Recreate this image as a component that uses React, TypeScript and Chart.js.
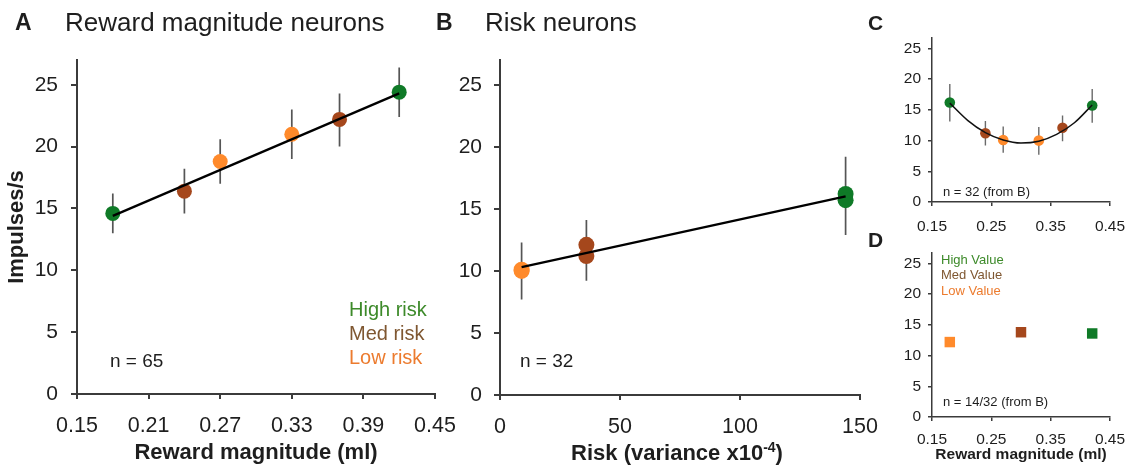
import React, { useEffect, useRef } from "react";
import { Chart, registerables } from "chart.js";

Chart.register(...registerables);

const FONT = '"Liberation Sans", Arial, Helvetica, sans-serif';
Chart.defaults.font.family = FONT;

// ---------- Panel A: reward magnitude neurons (n = 65) ----------
const rewardA = [0.18, 0.24, 0.27, 0.33, 0.37, 0.42];
const riskLevelA = ["high", "med", "low", "low", "med", "high"];
const impulsesA = [14.6, 16.4, 18.8, 21.0, 22.2, 24.4];
const errLowA = [13.0, 14.6, 17.0, 19.0, 20.0, 22.4];
const errHighA = [16.2, 18.2, 20.6, 23.0, 24.3, 26.4];
const fitXA = [0.18, 0.42];
const fitYA = [14.4, 24.3];

// ---------- Panels B & C: risk neurons (n = 32) ----------
const rewardB = [0.18, 0.24, 0.27, 0.33, 0.37, 0.42];
const riskVarB = [144, 36, 9, 9, 36, 144];
const riskLevelB = ["high", "med", "low", "low", "med", "high"];
const impulsesB = [16.2, 11.2, 10.1, 10.0, 12.1, 15.7];
const errLowB = [13.1, 9.2, 8.0, 7.7, 9.9, 12.9];
const errHighB = [19.2, 13.2, 12.3, 12.2, 14.1, 18.4];
const fitXB = [9, 144];
const fitYB = [10.3, 16.0];
const curveXC = [0.18, 0.21, 0.24, 0.27, 0.3, 0.33, 0.36, 0.39, 0.42];
const curveYC = [16.1, 13.3, 11.3, 10.1, 9.6, 9.9, 11.0, 12.9, 15.8];

// ---------- Panel D (n = 14/32) ----------
const rewardD = [0.18, 0.3, 0.42];
const valueLevelD = ["low", "med", "high"];
const impulsesD = [12.2, 13.8, 13.6];

// ---------- tick / label text ----------
const ticksRewardA = [0.15, 0.21, 0.27, 0.33, 0.39, 0.45];
const ticksRisk = [0, 50, 100, 150];
const ticksRewardCD = [0.15, 0.25, 0.35, 0.45];
const ticksImpulses = [0, 5, 10, 15, 20, 25];
const legendRisk = ["High risk", "Med risk", "Low risk"];
const legendValue = ["High Value", "Med Value", "Low Value"];

const POINT_COLORS: Record<string, string> = {
  high: "#0f7a27",
  med: "#a5471c",
  low: "#ff8a2b",
};
const LABEL_COLORS: Record<string, string> = {
  high: "#3d8a2a",
  med: "#7f5731",
  low: "#ec7b2e",
};
const AXIS = "#3b3b3b";
const TEXT = "#1e1e1e";

const pts = (xs: number[], ys: number[]) => xs.map((x, i) => ({ x, y: ys[i] }));
const errorSegments = (xs: number[], lo: number[], hi: number[]) => {
  const out: { x: number; y: number | null }[] = [];
  xs.forEach((x, i) => {
    out.push({ x, y: lo[i] }, { x, y: hi[i] }, { x, y: null });
  });
  return out;
};

type ScaleOpt = {
  min: number;
  max: number;
  step: number;
  tickValues: number[];
  decimals: number;
  fontSize: number;
  tickLen: number;
  pad: number;
  size: number;
  borderWidth: number;
  title?: string;
  titleSize?: number;
  titlePad?: any;
};

function scale(axis: "x" | "y", o: ScaleOpt) {
  return {
    type: "linear",
    position: axis === "x" ? "bottom" : "left",
    min: o.min,
    max: o.max,
    offset: false,
    afterBuildTicks: (s: any) => {
      s.ticks = o.tickValues.map((v) => ({ value: v }));
    },
    ticks: {
      stepSize: o.step,
      includeBounds: false,
      autoSkip: false,
      maxRotation: 0,
      color: TEXT,
      padding: o.pad,
      font: { size: o.fontSize },
      callback: (v: any) => Number(v).toFixed(o.decimals),
    },
    grid: {
      drawOnChartArea: false,
      drawTicks: true,
      tickLength: o.tickLen,
      color: AXIS,
      lineWidth: o.borderWidth,
      offset: false,
    },
    border: { display: true, color: AXIS, width: o.borderWidth },
    title: o.title
      ? {
          display: true,
          text: o.title,
          color: TEXT,
          font: { size: o.titleSize, weight: "bold" },
          padding: o.titlePad,
        }
      : { display: false },
    afterFit: (s: any) => {
      if (axis === "x") s.height = o.size;
      else s.width = o.size;
      s.paddingLeft = 0;
      s.paddingRight = 0;
      s.paddingTop = 0;
      s.paddingBottom = 0;
    },
  };
}

function baseOptions(padding: any, x: any, y: any) {
  return {
    responsive: false,
    animation: false,
    events: [],
    layout: { padding },
    plugins: { legend: { display: false }, tooltip: { enabled: false }, title: { display: false } },
    scales: { x, y },
  };
}

function configA() {
  return {
    type: "scatter",
    data: {
      datasets: [
        { data: pts(fitXA, fitYA), showLine: true, borderColor: "#000", borderWidth: 2.3, pointRadius: 0 },
        {
          data: pts(rewardA, impulsesA),
          pointRadius: 7.5,
          pointBorderWidth: 0,
          pointBackgroundColor: riskLevelA.map((r) => POINT_COLORS[r]),
        },
        {
          data: errorSegments(rewardA, errLowA, errHighA),
          showLine: true,
          spanGaps: false,
          borderColor: "#555",
          borderWidth: 1.7,
          pointRadius: 0,
        },
      ],
    },
    options: baseOptions(
      { left: 0, top: 60, right: 35, bottom: 0 },
      scale("x", {
        min: 0.15, max: 0.45, step: 0.06, tickValues: ticksRewardA, decimals: 2,
        fontSize: 21.5, tickLen: 5, pad: 14, size: 73, borderWidth: 2,
        title: "Reward magnitude (ml)", titleSize: 22, titlePad: { top: 0, bottom: 1 },
      }),
      scale("y", {
        min: 0, max: 27, step: 5, tickValues: ticksImpulses, decimals: 0,
        fontSize: 21, tickLen: 6, pad: 13, size: 77, borderWidth: 2,
        title: "Impulses/s", titleSize: 22, titlePad: { top: 4, bottom: 0 },
      })
    ),
  };
}

function configB() {
  return {
    type: "scatter",
    data: {
      datasets: [
        { data: pts(fitXB, fitYB), showLine: true, borderColor: "#000", borderWidth: 2.3, pointRadius: 0 },
        {
          data: pts(riskVarB, impulsesB),
          pointRadius: 8,
          pointBorderWidth: 0,
          pointBackgroundColor: riskLevelB.map((r) => POINT_COLORS[r]),
        },
        {
          data: errorSegments(riskVarB, errLowB, errHighB),
          showLine: true,
          spanGaps: false,
          borderColor: "#555",
          borderWidth: 1.7,
          pointRadius: 0,
        },
      ],
    },
    options: baseOptions(
      { left: 0, top: 60, right: 30, bottom: 0 },
      scale("x", {
        min: 0, max: 150, step: 50, tickValues: ticksRisk, decimals: 0,
        fontSize: 21.5, tickLen: 5, pad: 14, size: 72, borderWidth: 2,
      }),
      scale("y", {
        min: 0, max: 27, step: 5, tickValues: ticksImpulses, decimals: 0,
        fontSize: 21, tickLen: 6, pad: 12, size: 70, borderWidth: 2,
      })
    ),
  };
}

function configC() {
  return {
    type: "scatter",
    data: {
      datasets: [
        {
          data: pts(curveXC, curveYC),
          showLine: true,
          cubicInterpolationMode: "monotone",
          borderColor: "#111",
          borderWidth: 1.5,
          pointRadius: 0,
        },
        {
          data: pts(rewardB, impulsesB),
          pointRadius: 5.3,
          pointBorderWidth: 0,
          pointBackgroundColor: riskLevelB.map((r) => POINT_COLORS[r]),
        },
        {
          data: errorSegments(rewardB, errLowB, errHighB),
          showLine: true,
          spanGaps: false,
          borderColor: "#6a6a6a",
          borderWidth: 1.4,
          pointRadius: 0,
        },
      ],
    },
    options: baseOptions(
      { left: 0, top: 10, right: 17, bottom: 0 },
      scale("x", {
        min: 0.15, max: 0.45, step: 0.1, tickValues: ticksRewardCD, decimals: 2,
        fontSize: 15.5, tickLen: 4, pad: 11, size: 36, borderWidth: 1.5,
      }),
      scale("y", {
        min: 0, max: 26.7, step: 5, tickValues: ticksImpulses, decimals: 0,
        fontSize: 15.5, tickLen: 4, pad: 7, size: 72, borderWidth: 1.5,
      })
    ),
  };
}

function configD() {
  return {
    type: "scatter",
    data: {
      datasets: [
        {
          data: pts(rewardD, impulsesD),
          pointStyle: "rect",
          pointRadius: 7.4,
          pointBorderWidth: 0,
          pointBackgroundColor: valueLevelD.map((r) => POINT_COLORS[r]),
        },
      ],
    },
    options: baseOptions(
      { left: 0, top: 13, right: 17, bottom: 0 },
      scale("x", {
        min: 0.15, max: 0.45, step: 0.1, tickValues: ticksRewardCD, decimals: 2,
        fontSize: 15.5, tickLen: 4, pad: 9, size: 50, borderWidth: 1.5,
        title: "Reward magnitude (ml)", titleSize: 15.5, titlePad: { top: 0, bottom: 3 },
      }),
      scale("y", {
        min: 0, max: 26.7, step: 5, tickValues: ticksImpulses, decimals: 0,
        fontSize: 15.5, tickLen: 4, pad: 7, size: 72, borderWidth: 1.5,
      })
    ),
  };
}

function ChartPanel(props: { left: number; top: number; width: number; height: number; build: () => any }) {
  const ref = useRef<HTMLCanvasElement | null>(null);
  useEffect(() => {
    const chart = new Chart(ref.current as HTMLCanvasElement, props.build());
    return () => chart.destroy();
  }, []);
  return (
    <canvas
      ref={ref}
      width={props.width}
      height={props.height}
      style={{ position: "absolute", left: props.left, top: props.top, width: props.width, height: props.height }}
    />
  );
}

function Label(props: {
  x: number;
  cy: number;
  size: number;
  bold?: boolean;
  color?: string;
  center?: boolean;
  children: any;
}) {
  return (
    <div
      style={{
        position: "absolute",
        left: props.x,
        top: props.cy - props.size / 2,
        fontSize: props.size,
        lineHeight: props.size + "px",
        fontWeight: props.bold ? "bold" : "normal",
        color: props.color || TEXT,
        whiteSpace: "nowrap",
        fontFamily: FONT,
        transform: props.center ? "translateX(-50%)" : undefined,
      }}
    >
      {props.children}
    </div>
  );
}

export default function App() {
  const levels = ["high", "med", "low"];
  return (
    <div style={{ position: "absolute", left: 0, top: 0, width: 1127, height: 467, background: "#fff", overflow: "hidden" }}>
      <ChartPanel left={0} top={0} width={470} height={467} build={configA} />
      <ChartPanel left={430} top={0} width={460} height={467} build={configB} />
      <ChartPanel left={860} top={28} width={267} height={210} build={configC} />
      <ChartPanel left={860} top={240} width={267} height={227} build={configD} />

      <Label x={15} cy={22} size={23} bold>A</Label>
      <Label x={65} cy={22} size={26}>Reward magnitude neurons</Label>
      <Label x={436} cy={22} size={23} bold>B</Label>
      <Label x={485} cy={22} size={26}>Risk neurons</Label>
      <Label x={868} cy={22} size={21} bold>C</Label>
      <Label x={868} cy={239} size={21} bold>D</Label>

      <Label x={677} cy={453} size={22} bold center>
        Risk (variance x10
        <span style={{ fontSize: 14, position: "relative", top: -8 }}>-4</span>)
      </Label>

      <Label x={110} cy={360} size={19}>n = 65</Label>
      <Label x={520} cy={360} size={19}>n = 32</Label>
      <Label x={943} cy={191} size={13}>n = 32 (from B)</Label>
      <Label x={943} cy={401} size={13}>n = 14/32 (from B)</Label>

      {legendRisk.map((t, i) => (
        <Label key={t} x={349} cy={309 + i * 24} size={20} color={LABEL_COLORS[levels[i]]}>{t}</Label>
      ))}
      {legendValue.map((t, i) => (
        <Label key={t} x={941} cy={259 + i * 15.6} size={13} color={LABEL_COLORS[levels[i]]}>{t}</Label>
      ))}
    </div>
  );
}
